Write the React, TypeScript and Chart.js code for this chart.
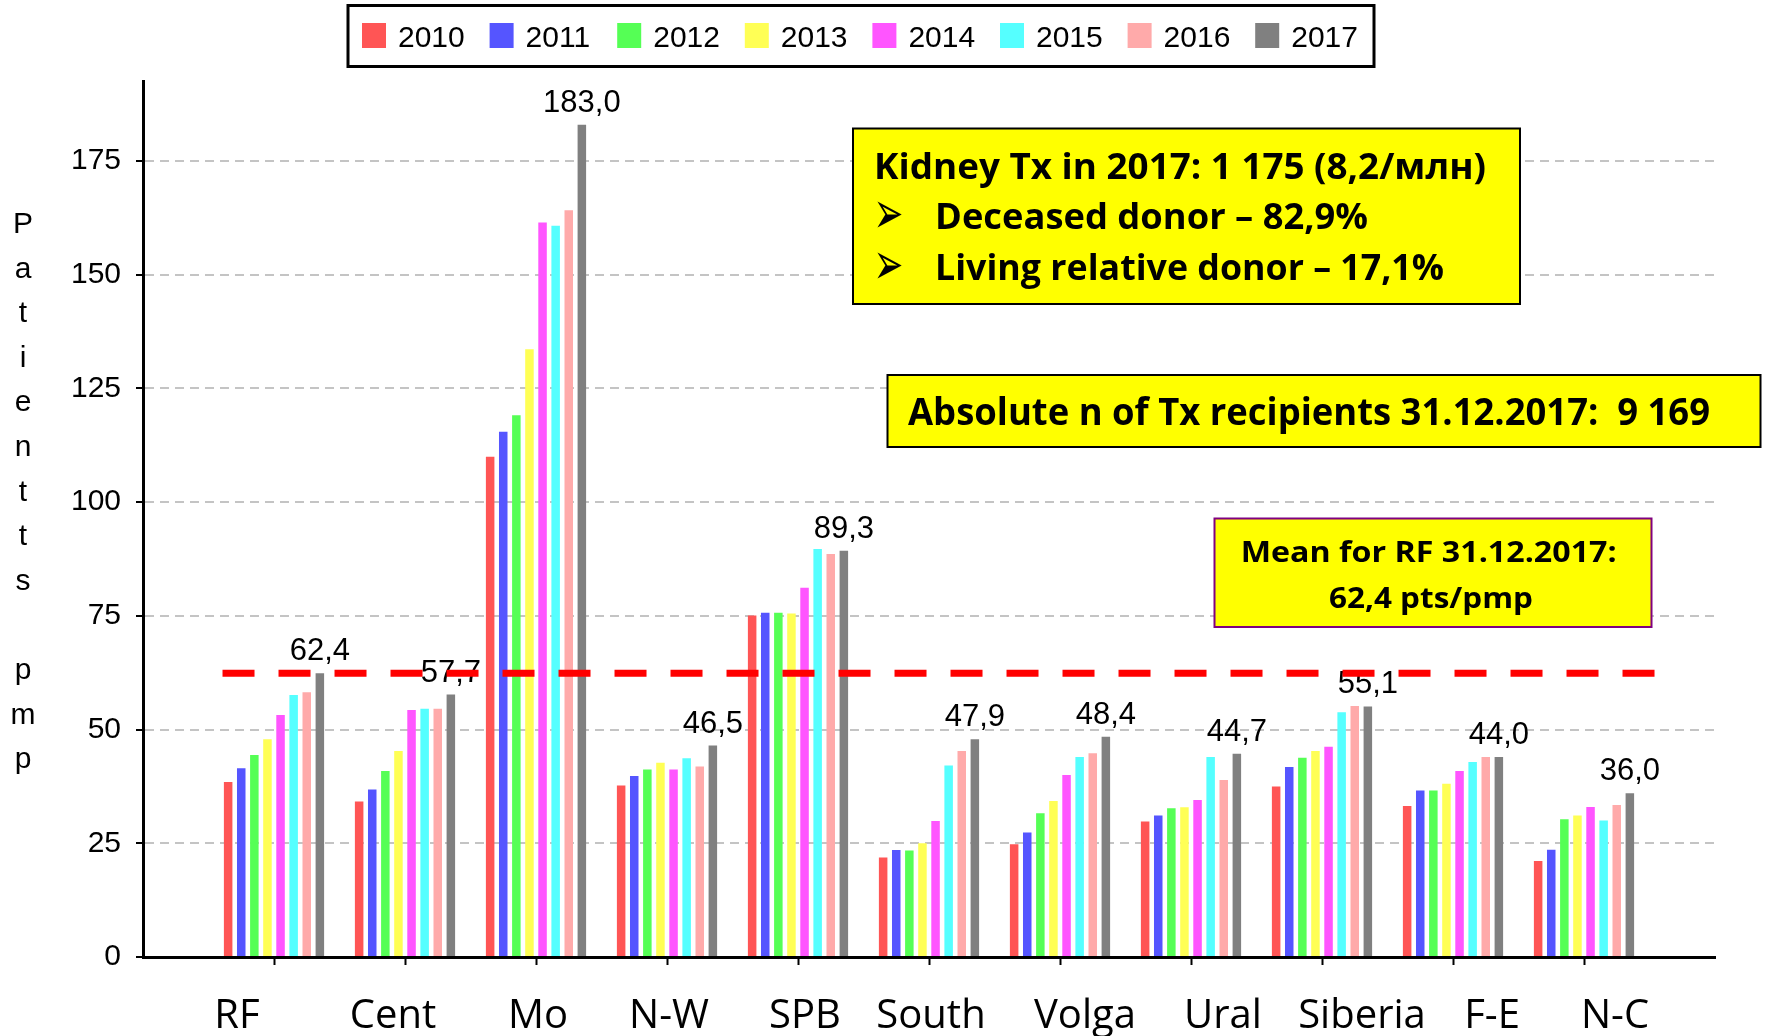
import React, { useEffect, useRef } from 'react';
import { Chart, registerables } from 'chart.js';

Chart.register(...registerables);

// ---------- data ----------
const categories = ['RF', 'Cent', 'Mo', 'N-W', 'SPB', 'South', 'Volga', 'Ural', 'Siberia', 'F-E', 'N-C'];
const years = ['2010', '2011', '2012', '2013', '2014', '2015', '2016', '2017'];
const values2010 = [38.5, 34.2, 110.0, 37.7, 75.1, 21.9, 24.8, 29.8, 37.5, 33.2, 21.1];
const values2011 = [41.5, 36.8, 115.5, 39.8, 75.7, 23.5, 27.4, 31.1, 41.8, 36.6, 23.6];
const values2012 = [44.4, 40.9, 119.1, 41.2, 75.7, 23.4, 31.6, 32.7, 43.8, 36.6, 30.3];
const values2013 = [47.9, 45.3, 133.6, 42.7, 75.5, 25.0, 34.3, 32.9, 45.3, 38.1, 31.1];
const values2014 = [53.2, 54.3, 161.5, 41.2, 81.2, 29.9, 40.0, 34.5, 46.2, 40.9, 33.0];
const values2015 = [57.6, 54.6, 160.8, 43.7, 89.7, 42.1, 44.0, 44.0, 53.8, 42.9, 30.0];
const values2016 = [58.2, 54.6, 164.2, 41.9, 88.6, 45.3, 44.8, 38.9, 55.2, 44.0, 33.4];
const values2017 = [62.4, 57.7, 183.0, 46.5, 89.3, 47.9, 48.4, 44.7, 55.1, 44.0, 36.0];
const seriesValues = [values2010, values2011, values2012, values2013, values2014, values2015, values2016, values2017];
const seriesColors = ['#FF5555', '#5555FF', '#55FF55', '#FFFF55', '#FF55FF', '#55FFFF', '#FFAAAA', '#808080'];
const meanRF = 62.4;
const meanLineFrom = 0.607; // in category index units (padded axis)
const meanLineTo = 11.54;
const yMax = 192.6;
const yStep = 25;
const yTitleLetters = ['P', 'a', 't', 'i', 'e', 'n', 't', 't', 's', '', 'p', 'm', 'p'];
const box1Lines = ['Kidney Tx in 2017: 1 175 (8,2/млн)', 'Deceased donor – 82,9%', 'Living relative donor – 17,1%'];
const box2Line = 'Absolute n of Tx recipients 31.12.2017:  9 169';
const box3Lines = ['Mean for RF 31.12.2017:', '62,4 pts/pmp'];
const bullet = '➢';
// horizontal shift (px) of each category label relative to its tick, as in the source layout
const labelShift = [-37, -12, 2, 2, 7, 2, 25, 32, 40, 39, 31];

const fmt = (v: number) => v.toFixed(1).replace('.', ',');

function fitText(ctx: CanvasRenderingContext2D, text: string, x: number, y: number, width: number, font: string) {
  ctx.save();
  ctx.font = font;
  const w = ctx.measureText(text).width || 1;
  ctx.translate(x, y);
  ctx.scale(width / w, 1);
  ctx.textAlign = 'left';
  ctx.textBaseline = 'alphabetic';
  ctx.fillStyle = '#000';
  ctx.fillText(text, 0, 0);
  ctx.restore();
}

function fitGlyph(ctx: CanvasRenderingContext2D, ch: string, x: number, y: number, w: number, h: number, font: string) {
  ctx.save();
  ctx.font = font;
  ctx.textAlign = 'left';
  ctx.textBaseline = 'alphabetic';
  const m = ctx.measureText(ch);
  const gw = (m.actualBoundingBoxLeft + m.actualBoundingBoxRight) || 1;
  const gh = (m.actualBoundingBoxAscent + m.actualBoundingBoxDescent) || 1;
  ctx.translate(x, y);
  ctx.scale(w / gw, h / gh);
  ctx.fillStyle = '#000';
  ctx.fillText(ch, m.actualBoundingBoxLeft, m.actualBoundingBoxAscent);
  ctx.restore();
}

const overlayPlugin = {
  id: 'overlay',
  afterDatasetsDraw(chart: any) {
    const ctx: CanvasRenderingContext2D = chart.ctx;
    const last = chart.data.datasets.length - 1;
    const meta = chart.getDatasetMeta(last);
    ctx.save();
    ctx.font = '31px "Liberation Sans", Arial, sans-serif';
    ctx.fillStyle = '#000';
    ctx.textAlign = 'center';
    ctx.textBaseline = 'alphabetic';
    meta.data.forEach((el: any, i: number) => {
      const v = chart.data.datasets[last].data[i];
      if (v == null) return;
      ctx.fillText(fmt(v), el.x, el.y - 13);
    });
    ctx.restore();

    // mean line
    const xs = chart.scales.x;
    const ys = chart.scales.y;
    const y = ys.getPixelForValue(meanRF);
    ctx.save();
    ctx.strokeStyle = '#FF0000';
    ctx.lineWidth = 7;
    ctx.setLineDash([32, 24]);
    ctx.beginPath();
    ctx.moveTo(xs.getPixelForValue(meanLineFrom), y);
    ctx.lineTo(xs.getPixelForValue(meanLineTo), y);
    ctx.stroke();
    ctx.restore();
  },
  afterDraw(chart: any) {
    const ctx: CanvasRenderingContext2D = chart.ctx;
    const xs = chart.scales.x;

    // category labels
    ctx.save();
    ctx.font = '40px "Open Sans", sans-serif';
    ctx.fillStyle = '#000';
    ctx.textAlign = 'center';
    ctx.textBaseline = 'alphabetic';
    categories.forEach((c, i) => {
      ctx.fillText(c, xs.getPixelForValue(i + 1) + labelShift[i], 1028);
    });
    ctx.restore();

    // legend
    ctx.save();
    ctx.fillStyle = '#fff';
    ctx.fillRect(348, 5.5, 1026, 61);
    ctx.strokeStyle = '#000';
    ctx.lineWidth = 3;
    ctx.strokeRect(348, 5.5, 1026, 61);
    ctx.font = '30px "Liberation Sans", Arial, sans-serif';
    ctx.textAlign = 'left';
    ctx.textBaseline = 'alphabetic';
    chart.data.datasets.forEach((ds: any, i: number) => {
      const x = 362 + i * 127.6;
      ctx.fillStyle = ds.backgroundColor;
      ctx.fillRect(x, 23, 24, 25);
      ctx.fillStyle = '#000';
      ctx.fillText(ds.label, x + 36, 47);
    });
    ctx.restore();

    // y title (stacked letters)
    ctx.save();
    ctx.font = '30px "Liberation Sans", Arial, sans-serif';
    ctx.fillStyle = '#000';
    ctx.textAlign = 'center';
    yTitleLetters.forEach((ch, i) => {
      ctx.fillText(ch, 23, 233 + i * 44.6);
    });
    ctx.restore();

    // box 1
    ctx.save();
    ctx.fillStyle = '#FFFF00';
    ctx.fillRect(853, 128.5, 667, 175.5);
    ctx.strokeStyle = '#000';
    ctx.lineWidth = 2;
    ctx.strokeRect(853, 128.5, 667, 175.5);
    ctx.restore();
    fitText(ctx, box1Lines[0], 874, 179.3, 612, 'bold 36px "Open Sans", sans-serif');
    fitGlyph(ctx, bullet, 877, 201, 25, 28, '40px "DejaVu Sans", sans-serif');
    fitText(ctx, box1Lines[1], 935, 229.3, 433, 'bold 35px "Open Sans", sans-serif');
    fitGlyph(ctx, bullet, 877, 252, 25, 28, '40px "DejaVu Sans", sans-serif');
    fitText(ctx, box1Lines[2], 935, 280, 509, 'bold 35px "Open Sans", sans-serif');

    // box 2
    ctx.save();
    ctx.fillStyle = '#FFFF00';
    ctx.fillRect(887.5, 375, 873, 72);
    ctx.strokeStyle = '#000';
    ctx.lineWidth = 2;
    ctx.strokeRect(887.5, 375, 873, 72);
    ctx.restore();
    fitText(ctx, box2Line, 908, 425, 802, 'bold 37px "Open Sans", sans-serif');

    // box 3
    ctx.save();
    ctx.fillStyle = '#FFFF00';
    ctx.fillRect(1214.5, 518.5, 437, 108.5);
    ctx.strokeStyle = '#800080';
    ctx.lineWidth = 2;
    ctx.strokeRect(1214.5, 518.5, 437, 108.5);
    ctx.restore();
    fitText(ctx, box3Lines[0], 1240.7, 562.3, 376, 'bold 29px "Open Sans", sans-serif');
    fitText(ctx, box3Lines[1], 1329, 607.7, 204, 'bold 29px "Open Sans", sans-serif');
  },
};

export default function App() {
  const canvasRef = useRef<HTMLCanvasElement | null>(null);

  useEffect(() => {
    if (!canvasRef.current) return;
    const labels = ['', ...categories, ''];
    const datasets = years.map((yr, i) => ({
      label: yr,
      data: [null, ...seriesValues[i], null],
      backgroundColor: seriesColors[i],
      borderWidth: 0,
      categoryPercentage: 0.8,
      barPercentage: 0.65,
    }));
    const chart = new Chart(canvasRef.current, {
      type: 'bar',
      data: { labels, datasets } as any,
      options: {
        animation: false,
        responsive: true,
        maintainAspectRatio: false,
        layout: { padding: { left: 0, right: 51, top: 81, bottom: 0 } },
        plugins: {
          legend: { display: false },
          tooltip: { enabled: false },
          title: { display: false },
        },
        scales: {
          x: {
            type: 'category',
            offset: false,
            grid: {
              display: true,
              offset: false,
              drawOnChartArea: false,
              drawTicks: true,
              tickLength: 8,
              tickWidth: 2,
              tickColor: (c: any) => (c.index === 0 || c.index === labels.length - 1 ? 'rgba(0,0,0,0)' : '#000'),
            },
            border: { display: true, color: '#000', width: 3 },
            ticks: { display: false, autoSkip: false, maxRotation: 0, minRotation: 0 },
            afterFit: (s: any) => { s.height = 79; },
          },
          y: {
            min: 0,
            max: yMax,
            ticks: {
              stepSize: yStep,
              padding: 15,
              color: '#000',
              font: { family: '"Liberation Sans", Arial, sans-serif', size: 30 },
            },
            afterBuildTicks: (s: any) => { s.ticks = s.ticks.filter((t: any) => t.value % yStep === 0); },
            grid: {
              color: '#C4C4C4',
              lineWidth: 2,
              drawTicks: true,
              tickLength: 7,
              tickWidth: 2,
              tickColor: '#000',
              tickBorderDash: [],
            },
            border: { display: true, color: '#000', width: 3, dash: [9, 6] },
            afterFit: (s: any) => { s.width = 143; },
          },
        },
      } as any,
      plugins: [overlayPlugin],
    });
    return () => chart.destroy();
  }, []);

  return (
    <div style={{ position: 'fixed', left: 0, top: 0, width: 1766, height: 1036, background: '#fff' }}>
      <canvas ref={canvasRef} />
    </div>
  );
}
